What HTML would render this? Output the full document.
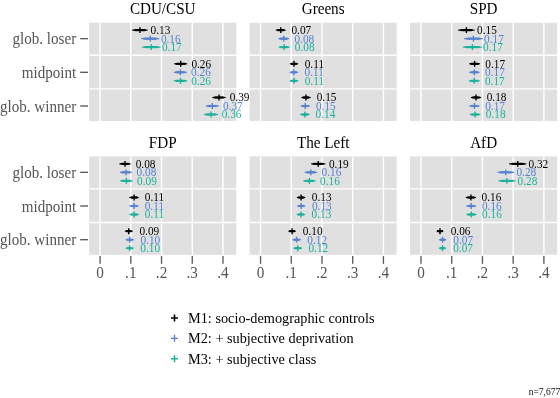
<!DOCTYPE html>
<html lang="en"><head><meta charset="utf-8"><title>Vote choice by globalization position</title>
<style>html,body{margin:0;padding:0;background:#fff}body{width:560px;height:398px;overflow:hidden}svg{display:block}text{font-family:"Liberation Serif","Times New Roman",Times,serif}.t{font-size:15.15px;fill:#000;text-anchor:middle}.y{font-size:15.1px;fill:#555555;text-anchor:end}.x{font-size:15.2px;fill:#555555;text-anchor:middle}.v{font-size:11.3px}.l{font-size:14.3px;fill:#000}.n{font-size:9.55px;fill:#111}</style></head><body>
<svg width="560" height="398" viewBox="0 0 560 398">
<rect width="560" height="398" fill="#fff"/>
<g>
<rect x="89.15" y="22.70" width="147.10" height="98.30" fill="#e0e0e0"/>
<path d="M100.10 22.70V121.00M130.82 22.70V121.00M161.54 22.70V121.00M192.26 22.70V121.00M222.98 22.70V121.00M89.15 55.20H236.25M89.15 88.85H236.25" stroke="#fff" stroke-width="1.4" fill="none"/>
<text class="t" transform="translate(162.70 13.60) scale(1 1.05)">CDU/CSU</text>
<path d="M132.15 30.15H147.65" stroke="#000000" stroke-width="1.1"/>
<path d="M133.67 30.15H146.13" stroke="#000000" stroke-width="1.6"/>
<path d="M134.88 30.15H144.92" stroke="#000000" stroke-width="2.15"/>
<path d="M139.90 27.20V33.10" stroke="#000000" stroke-width="1.4"/>
<text class="v" transform="translate(150.60 34.00) scale(1 1.09)" fill="#000000">0.13</text>
<path d="M141.15 38.65H159.25" stroke="#5781cf" stroke-width="1.1"/>
<path d="M142.90 38.65H157.50" stroke="#5781cf" stroke-width="1.6"/>
<path d="M144.33 38.65H156.07" stroke="#5781cf" stroke-width="2.15"/>
<path d="M150.20 35.70V41.60" stroke="#5781cf" stroke-width="1.4"/>
<text class="v" transform="translate(160.90 42.50) scale(1 1.09)" fill="#5781cf">0.16</text>
<path d="M142.00 47.15H160.50" stroke="#1db19d" stroke-width="1.1"/>
<path d="M143.79 47.15H158.71" stroke="#1db19d" stroke-width="1.6"/>
<path d="M145.24 47.15H157.26" stroke="#1db19d" stroke-width="2.15"/>
<path d="M151.25 44.20V50.10" stroke="#1db19d" stroke-width="1.4"/>
<text class="v" transform="translate(161.95 51.00) scale(1 1.09)" fill="#1db19d">0.17</text>
<path d="M174.15 63.80H187.25" stroke="#000000" stroke-width="1.1"/>
<path d="M175.45 63.80H185.95" stroke="#000000" stroke-width="1.6"/>
<path d="M176.48 63.80H184.92" stroke="#000000" stroke-width="2.15"/>
<path d="M180.70 60.85V66.75" stroke="#000000" stroke-width="1.4"/>
<text class="v" transform="translate(191.40 67.65) scale(1 1.09)" fill="#000000">0.26</text>
<path d="M173.80 72.30H186.90" stroke="#5781cf" stroke-width="1.1"/>
<path d="M175.10 72.30H185.60" stroke="#5781cf" stroke-width="1.6"/>
<path d="M176.13 72.30H184.57" stroke="#5781cf" stroke-width="2.15"/>
<path d="M180.35 69.35V75.25" stroke="#5781cf" stroke-width="1.4"/>
<text class="v" transform="translate(191.05 76.15) scale(1 1.09)" fill="#5781cf">0.26</text>
<path d="M173.75 80.80H187.25" stroke="#1db19d" stroke-width="1.1"/>
<path d="M175.09 80.80H185.91" stroke="#1db19d" stroke-width="1.6"/>
<path d="M176.14 80.80H184.86" stroke="#1db19d" stroke-width="2.15"/>
<path d="M180.50 77.85V83.75" stroke="#1db19d" stroke-width="1.4"/>
<text class="v" transform="translate(191.20 84.65) scale(1 1.09)" fill="#1db19d">0.26</text>
<path d="M212.35 97.50H225.65" stroke="#000000" stroke-width="1.1"/>
<path d="M213.67 97.50H224.33" stroke="#000000" stroke-width="1.6"/>
<path d="M214.71 97.50H223.29" stroke="#000000" stroke-width="2.15"/>
<path d="M219.00 94.55V100.45" stroke="#000000" stroke-width="1.4"/>
<text class="v" transform="translate(229.70 101.35) scale(1 1.09)" fill="#000000">0.39</text>
<path d="M205.75 106.00H218.85" stroke="#5781cf" stroke-width="1.1"/>
<path d="M207.05 106.00H217.55" stroke="#5781cf" stroke-width="1.6"/>
<path d="M208.08 106.00H216.52" stroke="#5781cf" stroke-width="2.15"/>
<path d="M212.30 103.05V108.95" stroke="#5781cf" stroke-width="1.4"/>
<text class="v" transform="translate(223.00 109.85) scale(1 1.09)" fill="#5781cf">0.37</text>
<path d="M203.95 114.50H218.05" stroke="#1db19d" stroke-width="1.1"/>
<path d="M205.34 114.50H216.66" stroke="#1db19d" stroke-width="1.6"/>
<path d="M206.45 114.50H215.55" stroke="#1db19d" stroke-width="2.15"/>
<path d="M211.00 111.55V117.45" stroke="#1db19d" stroke-width="1.4"/>
<text class="v" transform="translate(221.70 118.35) scale(1 1.09)" fill="#1db19d">0.36</text>
</g>
<g>
<rect x="249.60" y="22.70" width="147.10" height="98.30" fill="#e0e0e0"/>
<path d="M260.55 22.70V121.00M291.27 22.70V121.00M321.99 22.70V121.00M352.71 22.70V121.00M383.43 22.70V121.00M249.60 55.20H396.70M249.60 88.85H396.70" stroke="#fff" stroke-width="1.4" fill="none"/>
<text class="t" transform="translate(323.15 13.60) scale(1 1.05)">Greens</text>
<path d="M275.85 30.15H285.65" stroke="#000000" stroke-width="1.1"/>
<path d="M276.86 30.15H284.64" stroke="#000000" stroke-width="1.6"/>
<path d="M277.62 30.15H283.88" stroke="#000000" stroke-width="2.15"/>
<path d="M280.75 27.20V33.10" stroke="#000000" stroke-width="1.4"/>
<text class="v" transform="translate(291.45 34.00) scale(1 1.09)" fill="#000000">0.07</text>
<path d="M278.35 38.65H289.15" stroke="#5781cf" stroke-width="1.1"/>
<path d="M279.44 38.65H288.06" stroke="#5781cf" stroke-width="1.6"/>
<path d="M280.29 38.65H287.21" stroke="#5781cf" stroke-width="2.15"/>
<path d="M283.75 35.70V41.60" stroke="#5781cf" stroke-width="1.4"/>
<text class="v" transform="translate(294.45 42.50) scale(1 1.09)" fill="#5781cf">0.08</text>
<path d="M278.55 47.15H289.65" stroke="#1db19d" stroke-width="1.1"/>
<path d="M279.67 47.15H288.53" stroke="#1db19d" stroke-width="1.6"/>
<path d="M280.54 47.15H287.66" stroke="#1db19d" stroke-width="2.15"/>
<path d="M284.10 44.20V50.10" stroke="#1db19d" stroke-width="1.4"/>
<text class="v" transform="translate(294.80 51.00) scale(1 1.09)" fill="#1db19d">0.08</text>
<path d="M289.85 63.80H298.15" stroke="#000000" stroke-width="1.1"/>
<path d="M290.72 63.80H297.28" stroke="#000000" stroke-width="1.6"/>
<path d="M291.36 63.80H296.64" stroke="#000000" stroke-width="2.15"/>
<path d="M294.00 60.85V66.75" stroke="#000000" stroke-width="1.4"/>
<text class="v" transform="translate(304.70 67.65) scale(1 1.09)" fill="#000000">0.11</text>
<path d="M289.65 72.30H298.15" stroke="#5781cf" stroke-width="1.1"/>
<path d="M290.54 72.30H297.26" stroke="#5781cf" stroke-width="1.6"/>
<path d="M291.19 72.30H296.61" stroke="#5781cf" stroke-width="2.15"/>
<path d="M293.90 69.35V75.25" stroke="#5781cf" stroke-width="1.4"/>
<text class="v" transform="translate(304.60 76.15) scale(1 1.09)" fill="#5781cf">0.11</text>
<path d="M289.65 80.80H298.35" stroke="#1db19d" stroke-width="1.1"/>
<path d="M290.56 80.80H297.44" stroke="#1db19d" stroke-width="1.6"/>
<path d="M291.23 80.80H296.77" stroke="#1db19d" stroke-width="2.15"/>
<path d="M294.00 77.85V83.75" stroke="#1db19d" stroke-width="1.4"/>
<text class="v" transform="translate(304.70 84.65) scale(1 1.09)" fill="#1db19d">0.11</text>
<path d="M301.35 97.50H310.65" stroke="#000000" stroke-width="1.1"/>
<path d="M302.31 97.50H309.69" stroke="#000000" stroke-width="1.6"/>
<path d="M303.03 97.50H308.97" stroke="#000000" stroke-width="2.15"/>
<path d="M306.00 94.55V100.45" stroke="#000000" stroke-width="1.4"/>
<text class="v" transform="translate(316.70 101.35) scale(1 1.09)" fill="#000000">0.15</text>
<path d="M300.60 106.00H309.90" stroke="#5781cf" stroke-width="1.1"/>
<path d="M301.56 106.00H308.94" stroke="#5781cf" stroke-width="1.6"/>
<path d="M302.28 106.00H308.22" stroke="#5781cf" stroke-width="2.15"/>
<path d="M305.25 103.05V108.95" stroke="#5781cf" stroke-width="1.4"/>
<text class="v" transform="translate(315.95 109.85) scale(1 1.09)" fill="#5781cf">0.15</text>
<path d="M300.15 114.50H309.65" stroke="#1db19d" stroke-width="1.1"/>
<path d="M301.13 114.50H308.67" stroke="#1db19d" stroke-width="1.6"/>
<path d="M301.86 114.50H307.94" stroke="#1db19d" stroke-width="2.15"/>
<path d="M304.90 111.55V117.45" stroke="#1db19d" stroke-width="1.4"/>
<text class="v" transform="translate(315.60 118.35) scale(1 1.09)" fill="#1db19d">0.14</text>
</g>
<g>
<rect x="410.05" y="22.70" width="147.10" height="98.30" fill="#e0e0e0"/>
<path d="M421.00 22.70V121.00M451.72 22.70V121.00M482.44 22.70V121.00M513.16 22.70V121.00M543.88 22.70V121.00M410.05 55.20H557.15M410.05 88.85H557.15" stroke="#fff" stroke-width="1.4" fill="none"/>
<text class="t" transform="translate(483.60 13.60) scale(1 1.05)">SPD</text>
<path d="M458.15 30.15H474.65" stroke="#000000" stroke-width="1.1"/>
<path d="M459.76 30.15H473.04" stroke="#000000" stroke-width="1.6"/>
<path d="M461.05 30.15H471.75" stroke="#000000" stroke-width="2.15"/>
<path d="M466.40 27.20V33.10" stroke="#000000" stroke-width="1.4"/>
<text class="v" transform="translate(477.10 34.00) scale(1 1.09)" fill="#000000">0.15</text>
<path d="M463.85 38.65H482.95" stroke="#5781cf" stroke-width="1.1"/>
<path d="M465.69 38.65H481.11" stroke="#5781cf" stroke-width="1.6"/>
<path d="M467.20 38.65H479.60" stroke="#5781cf" stroke-width="2.15"/>
<path d="M473.40 35.70V41.60" stroke="#5781cf" stroke-width="1.4"/>
<text class="v" transform="translate(484.10 42.50) scale(1 1.09)" fill="#5781cf">0.17</text>
<path d="M462.85 47.15H481.95" stroke="#1db19d" stroke-width="1.1"/>
<path d="M464.69 47.15H480.11" stroke="#1db19d" stroke-width="1.6"/>
<path d="M466.20 47.15H478.60" stroke="#1db19d" stroke-width="2.15"/>
<path d="M472.40 44.20V50.10" stroke="#1db19d" stroke-width="1.4"/>
<text class="v" transform="translate(483.10 51.00) scale(1 1.09)" fill="#1db19d">0.17</text>
<path d="M469.15 63.80H480.05" stroke="#000000" stroke-width="1.1"/>
<path d="M470.25 63.80H478.95" stroke="#000000" stroke-width="1.6"/>
<path d="M471.10 63.80H478.10" stroke="#000000" stroke-width="2.15"/>
<path d="M474.60 60.85V66.75" stroke="#000000" stroke-width="1.4"/>
<text class="v" transform="translate(485.30 67.65) scale(1 1.09)" fill="#000000">0.17</text>
<path d="M469.15 72.30H479.65" stroke="#5781cf" stroke-width="1.1"/>
<path d="M470.22 72.30H478.58" stroke="#5781cf" stroke-width="1.6"/>
<path d="M471.03 72.30H477.77" stroke="#5781cf" stroke-width="2.15"/>
<path d="M474.40 69.35V75.25" stroke="#5781cf" stroke-width="1.4"/>
<text class="v" transform="translate(485.10 76.15) scale(1 1.09)" fill="#5781cf">0.17</text>
<path d="M468.85 80.80H479.65" stroke="#1db19d" stroke-width="1.1"/>
<path d="M469.94 80.80H478.56" stroke="#1db19d" stroke-width="1.6"/>
<path d="M470.79 80.80H477.71" stroke="#1db19d" stroke-width="2.15"/>
<path d="M474.25 77.85V83.75" stroke="#1db19d" stroke-width="1.4"/>
<text class="v" transform="translate(484.95 84.65) scale(1 1.09)" fill="#1db19d">0.17</text>
<path d="M470.85 97.50H481.15" stroke="#000000" stroke-width="1.1"/>
<path d="M471.90 97.50H480.10" stroke="#000000" stroke-width="1.6"/>
<path d="M472.70 97.50H479.30" stroke="#000000" stroke-width="2.15"/>
<path d="M476.00 94.55V100.45" stroke="#000000" stroke-width="1.4"/>
<text class="v" transform="translate(486.70 101.35) scale(1 1.09)" fill="#000000">0.18</text>
<path d="M469.35 106.00H479.65" stroke="#5781cf" stroke-width="1.1"/>
<path d="M470.40 106.00H478.60" stroke="#5781cf" stroke-width="1.6"/>
<path d="M471.20 106.00H477.80" stroke="#5781cf" stroke-width="2.15"/>
<path d="M474.50 103.05V108.95" stroke="#5781cf" stroke-width="1.4"/>
<text class="v" transform="translate(485.20 109.85) scale(1 1.09)" fill="#5781cf">0.17</text>
<path d="M469.85 114.50H480.35" stroke="#1db19d" stroke-width="1.1"/>
<path d="M470.92 114.50H479.28" stroke="#1db19d" stroke-width="1.6"/>
<path d="M471.73 114.50H478.47" stroke="#1db19d" stroke-width="2.15"/>
<path d="M475.10 111.55V117.45" stroke="#1db19d" stroke-width="1.4"/>
<text class="v" transform="translate(485.80 118.35) scale(1 1.09)" fill="#1db19d">0.18</text>
</g>
<path d="M80.2 38.65H88" stroke="#5a5a5a" stroke-width="1.35"/>
<text class="y" transform="translate(76.20 44.25) scale(1 1.07)">glob. loser</text>
<path d="M80.2 72.30H88" stroke="#5a5a5a" stroke-width="1.35"/>
<text class="y" transform="translate(76.20 77.90) scale(1 1.07)">midpoint</text>
<path d="M80.2 106.00H88" stroke="#5a5a5a" stroke-width="1.35"/>
<text class="y" transform="translate(76.20 111.60) scale(1 1.07)">glob. winner</text>
<g>
<rect x="89.15" y="156.40" width="147.10" height="98.35" fill="#e0e0e0"/>
<path d="M100.10 156.40V254.75M130.82 156.40V254.75M161.54 156.40V254.75M192.26 156.40V254.75M222.98 156.40V254.75M89.15 188.90H236.25M89.15 222.55H236.25" stroke="#fff" stroke-width="1.4" fill="none"/>
<text class="t" transform="translate(162.70 147.90) scale(1 1.05)">FDP</text>
<path d="M119.35 163.85H130.65" stroke="#000000" stroke-width="1.1"/>
<path d="M120.49 163.85H129.51" stroke="#000000" stroke-width="1.6"/>
<path d="M121.37 163.85H128.63" stroke="#000000" stroke-width="2.15"/>
<path d="M125.00 160.90V166.80" stroke="#000000" stroke-width="1.4"/>
<text class="v" transform="translate(135.70 167.70) scale(1 1.09)" fill="#000000">0.08</text>
<path d="M119.85 172.35H131.95" stroke="#5781cf" stroke-width="1.1"/>
<path d="M121.06 172.35H130.74" stroke="#5781cf" stroke-width="1.6"/>
<path d="M122.01 172.35H129.79" stroke="#5781cf" stroke-width="2.15"/>
<path d="M125.90 169.40V175.30" stroke="#5781cf" stroke-width="1.4"/>
<text class="v" transform="translate(136.60 176.20) scale(1 1.09)" fill="#5781cf">0.08</text>
<path d="M120.15 180.85H132.65" stroke="#1db19d" stroke-width="1.1"/>
<path d="M121.40 180.85H131.40" stroke="#1db19d" stroke-width="1.6"/>
<path d="M122.37 180.85H130.43" stroke="#1db19d" stroke-width="2.15"/>
<path d="M126.40 177.90V183.80" stroke="#1db19d" stroke-width="1.4"/>
<text class="v" transform="translate(137.10 184.70) scale(1 1.09)" fill="#1db19d">0.09</text>
<path d="M129.35 197.50H138.85" stroke="#000000" stroke-width="1.1"/>
<path d="M130.33 197.50H137.87" stroke="#000000" stroke-width="1.6"/>
<path d="M131.06 197.50H137.14" stroke="#000000" stroke-width="2.15"/>
<path d="M134.10 194.55V200.45" stroke="#000000" stroke-width="1.4"/>
<text class="v" transform="translate(144.80 201.35) scale(1 1.09)" fill="#000000">0.11</text>
<path d="M129.35 206.00H138.65" stroke="#5781cf" stroke-width="1.1"/>
<path d="M130.31 206.00H137.69" stroke="#5781cf" stroke-width="1.6"/>
<path d="M131.03 206.00H136.97" stroke="#5781cf" stroke-width="2.15"/>
<path d="M134.00 203.05V208.95" stroke="#5781cf" stroke-width="1.4"/>
<text class="v" transform="translate(144.70 209.85) scale(1 1.09)" fill="#5781cf">0.11</text>
<path d="M129.35 214.50H138.85" stroke="#1db19d" stroke-width="1.1"/>
<path d="M130.33 214.50H137.87" stroke="#1db19d" stroke-width="1.6"/>
<path d="M131.06 214.50H137.14" stroke="#1db19d" stroke-width="2.15"/>
<path d="M134.10 211.55V217.45" stroke="#1db19d" stroke-width="1.4"/>
<text class="v" transform="translate(144.80 218.35) scale(1 1.09)" fill="#1db19d">0.11</text>
<path d="M124.85 231.20H132.65" stroke="#000000" stroke-width="1.1"/>
<path d="M125.67 231.20H131.82" stroke="#000000" stroke-width="1.6"/>
<path d="M126.25 231.20H131.25" stroke="#000000" stroke-width="2.15"/>
<path d="M128.75 228.25V234.15" stroke="#000000" stroke-width="1.4"/>
<text class="v" transform="translate(139.45 235.05) scale(1 1.09)" fill="#000000">0.09</text>
<path d="M125.60 239.70H133.90" stroke="#5781cf" stroke-width="1.1"/>
<path d="M126.47 239.70H133.03" stroke="#5781cf" stroke-width="1.6"/>
<path d="M127.11 239.70H132.39" stroke="#5781cf" stroke-width="2.15"/>
<path d="M129.75 236.75V242.65" stroke="#5781cf" stroke-width="1.4"/>
<text class="v" transform="translate(140.45 243.55) scale(1 1.09)" fill="#5781cf">0.10</text>
<path d="M125.55 248.20H133.65" stroke="#1db19d" stroke-width="1.1"/>
<path d="M126.40 248.20H132.80" stroke="#1db19d" stroke-width="1.6"/>
<path d="M127.03 248.20H132.17" stroke="#1db19d" stroke-width="2.15"/>
<path d="M129.60 245.25V251.15" stroke="#1db19d" stroke-width="1.4"/>
<text class="v" transform="translate(140.30 252.05) scale(1 1.09)" fill="#1db19d">0.10</text>
</g>
<g>
<rect x="249.60" y="156.40" width="147.10" height="98.35" fill="#e0e0e0"/>
<path d="M260.55 156.40V254.75M291.27 156.40V254.75M321.99 156.40V254.75M352.71 156.40V254.75M383.43 156.40V254.75M249.60 188.90H396.70M249.60 222.55H396.70" stroke="#fff" stroke-width="1.4" fill="none"/>
<text class="t" transform="translate(323.15 147.90) scale(1 1.05)">The Left</text>
<path d="M311.10 163.85H325.40" stroke="#000000" stroke-width="1.1"/>
<path d="M312.51 163.85H323.99" stroke="#000000" stroke-width="1.6"/>
<path d="M313.63 163.85H322.87" stroke="#000000" stroke-width="2.15"/>
<path d="M318.25 160.90V166.80" stroke="#000000" stroke-width="1.4"/>
<text class="v" transform="translate(328.95 167.70) scale(1 1.09)" fill="#000000">0.19</text>
<path d="M304.65 172.35H317.15" stroke="#5781cf" stroke-width="1.1"/>
<path d="M305.90 172.35H315.90" stroke="#5781cf" stroke-width="1.6"/>
<path d="M306.87 172.35H314.93" stroke="#5781cf" stroke-width="2.15"/>
<path d="M310.90 169.40V175.30" stroke="#5781cf" stroke-width="1.4"/>
<text class="v" transform="translate(321.60 176.20) scale(1 1.09)" fill="#5781cf">0.16</text>
<path d="M303.15 180.85H315.65" stroke="#1db19d" stroke-width="1.1"/>
<path d="M304.40 180.85H314.40" stroke="#1db19d" stroke-width="1.6"/>
<path d="M305.37 180.85H313.43" stroke="#1db19d" stroke-width="2.15"/>
<path d="M309.40 177.90V183.80" stroke="#1db19d" stroke-width="1.4"/>
<text class="v" transform="translate(320.10 184.70) scale(1 1.09)" fill="#1db19d">0.16</text>
<path d="M296.85 197.50H305.35" stroke="#000000" stroke-width="1.1"/>
<path d="M297.74 197.50H304.46" stroke="#000000" stroke-width="1.6"/>
<path d="M298.39 197.50H303.81" stroke="#000000" stroke-width="2.15"/>
<path d="M301.10 194.55V200.45" stroke="#000000" stroke-width="1.4"/>
<text class="v" transform="translate(311.80 201.35) scale(1 1.09)" fill="#000000">0.13</text>
<path d="M297.10 206.00H305.40" stroke="#5781cf" stroke-width="1.1"/>
<path d="M297.97 206.00H304.53" stroke="#5781cf" stroke-width="1.6"/>
<path d="M298.61 206.00H303.89" stroke="#5781cf" stroke-width="2.15"/>
<path d="M301.25 203.05V208.95" stroke="#5781cf" stroke-width="1.4"/>
<text class="v" transform="translate(311.95 209.85) scale(1 1.09)" fill="#5781cf">0.13</text>
<path d="M296.65 214.50H305.15" stroke="#1db19d" stroke-width="1.1"/>
<path d="M297.54 214.50H304.26" stroke="#1db19d" stroke-width="1.6"/>
<path d="M298.19 214.50H303.61" stroke="#1db19d" stroke-width="2.15"/>
<path d="M300.90 211.55V217.45" stroke="#1db19d" stroke-width="1.4"/>
<text class="v" transform="translate(311.60 218.35) scale(1 1.09)" fill="#1db19d">0.13</text>
<path d="M288.35 231.20H295.85" stroke="#000000" stroke-width="1.1"/>
<path d="M289.15 231.20H295.05" stroke="#000000" stroke-width="1.6"/>
<path d="M289.60 231.20H294.60" stroke="#000000" stroke-width="2.15"/>
<path d="M292.10 228.25V234.15" stroke="#000000" stroke-width="1.4"/>
<text class="v" transform="translate(302.80 235.05) scale(1 1.09)" fill="#000000">0.10</text>
<path d="M292.35 239.70H300.85" stroke="#5781cf" stroke-width="1.1"/>
<path d="M293.24 239.70H299.96" stroke="#5781cf" stroke-width="1.6"/>
<path d="M293.89 239.70H299.31" stroke="#5781cf" stroke-width="2.15"/>
<path d="M296.60 236.75V242.65" stroke="#5781cf" stroke-width="1.4"/>
<text class="v" transform="translate(307.30 243.55) scale(1 1.09)" fill="#5781cf">0.12</text>
<path d="M293.35 248.20H302.15" stroke="#1db19d" stroke-width="1.1"/>
<path d="M294.26 248.20H301.24" stroke="#1db19d" stroke-width="1.6"/>
<path d="M294.94 248.20H300.56" stroke="#1db19d" stroke-width="2.15"/>
<path d="M297.75 245.25V251.15" stroke="#1db19d" stroke-width="1.4"/>
<text class="v" transform="translate(308.45 252.05) scale(1 1.09)" fill="#1db19d">0.12</text>
</g>
<g>
<rect x="410.05" y="156.40" width="147.10" height="98.35" fill="#e0e0e0"/>
<path d="M421.00 156.40V254.75M451.72 156.40V254.75M482.44 156.40V254.75M513.16 156.40V254.75M543.88 156.40V254.75M410.05 188.90H557.15M410.05 222.55H557.15" stroke="#fff" stroke-width="1.4" fill="none"/>
<text class="t" transform="translate(483.60 147.90) scale(1 1.05)">AfD</text>
<path d="M509.10 163.85H526.40" stroke="#000000" stroke-width="1.1"/>
<path d="M510.78 163.85H524.72" stroke="#000000" stroke-width="1.6"/>
<path d="M512.14 163.85H523.36" stroke="#000000" stroke-width="2.15"/>
<path d="M517.75 160.90V166.80" stroke="#000000" stroke-width="1.4"/>
<text class="v" transform="translate(528.45 167.70) scale(1 1.09)" fill="#000000">0.32</text>
<path d="M497.35 172.35H514.15" stroke="#5781cf" stroke-width="1.1"/>
<path d="M498.99 172.35H512.51" stroke="#5781cf" stroke-width="1.6"/>
<path d="M500.31 172.35H511.19" stroke="#5781cf" stroke-width="2.15"/>
<path d="M505.75 169.40V175.30" stroke="#5781cf" stroke-width="1.4"/>
<text class="v" transform="translate(516.45 176.20) scale(1 1.09)" fill="#5781cf">0.28</text>
<path d="M498.35 180.85H515.45" stroke="#1db19d" stroke-width="1.1"/>
<path d="M500.01 180.85H513.79" stroke="#1db19d" stroke-width="1.6"/>
<path d="M501.36 180.85H512.44" stroke="#1db19d" stroke-width="2.15"/>
<path d="M506.90 177.90V183.80" stroke="#1db19d" stroke-width="1.4"/>
<text class="v" transform="translate(517.60 184.70) scale(1 1.09)" fill="#1db19d">0.28</text>
<path d="M465.85 197.50H475.95" stroke="#000000" stroke-width="1.1"/>
<path d="M466.88 197.50H474.92" stroke="#000000" stroke-width="1.6"/>
<path d="M467.67 197.50H474.13" stroke="#000000" stroke-width="2.15"/>
<path d="M470.90 194.55V200.45" stroke="#000000" stroke-width="1.4"/>
<text class="v" transform="translate(481.60 201.35) scale(1 1.09)" fill="#000000">0.16</text>
<path d="M466.35 206.00H476.15" stroke="#5781cf" stroke-width="1.1"/>
<path d="M467.36 206.00H475.14" stroke="#5781cf" stroke-width="1.6"/>
<path d="M468.12 206.00H474.38" stroke="#5781cf" stroke-width="2.15"/>
<path d="M471.25 203.05V208.95" stroke="#5781cf" stroke-width="1.4"/>
<text class="v" transform="translate(481.95 209.85) scale(1 1.09)" fill="#5781cf">0.16</text>
<path d="M466.35 214.50H476.45" stroke="#1db19d" stroke-width="1.1"/>
<path d="M467.38 214.50H475.42" stroke="#1db19d" stroke-width="1.6"/>
<path d="M468.17 214.50H474.63" stroke="#1db19d" stroke-width="2.15"/>
<path d="M471.40 211.55V217.45" stroke="#1db19d" stroke-width="1.4"/>
<text class="v" transform="translate(482.10 218.35) scale(1 1.09)" fill="#1db19d">0.16</text>
<path d="M436.65 231.20H443.35" stroke="#000000" stroke-width="1.1"/>
<path d="M437.10 231.20H442.90" stroke="#000000" stroke-width="1.6"/>
<path d="M437.50 231.20H442.50" stroke="#000000" stroke-width="2.15"/>
<path d="M440.00 228.25V234.15" stroke="#000000" stroke-width="1.4"/>
<text class="v" transform="translate(450.70 235.05) scale(1 1.09)" fill="#000000">0.06</text>
<path d="M439.05 239.70H446.15" stroke="#5781cf" stroke-width="1.1"/>
<path d="M439.70 239.70H445.50" stroke="#5781cf" stroke-width="1.6"/>
<path d="M440.10 239.70H445.10" stroke="#5781cf" stroke-width="2.15"/>
<path d="M442.60 236.75V242.65" stroke="#5781cf" stroke-width="1.4"/>
<text class="v" transform="translate(453.30 243.55) scale(1 1.09)" fill="#5781cf">0.07</text>
<path d="M438.85 248.20H446.15" stroke="#1db19d" stroke-width="1.1"/>
<path d="M439.60 248.20H445.40" stroke="#1db19d" stroke-width="1.6"/>
<path d="M440.00 248.20H445.00" stroke="#1db19d" stroke-width="2.15"/>
<path d="M442.50 245.25V251.15" stroke="#1db19d" stroke-width="1.4"/>
<text class="v" transform="translate(453.20 252.05) scale(1 1.09)" fill="#1db19d">0.07</text>
</g>
<path d="M80.2 172.35H88" stroke="#5a5a5a" stroke-width="1.35"/>
<text class="y" transform="translate(76.20 177.95) scale(1 1.07)">glob. loser</text>
<path d="M80.2 206.00H88" stroke="#5a5a5a" stroke-width="1.35"/>
<text class="y" transform="translate(76.20 211.60) scale(1 1.07)">midpoint</text>
<path d="M80.2 239.70H88" stroke="#5a5a5a" stroke-width="1.35"/>
<text class="y" transform="translate(76.20 245.30) scale(1 1.07)">glob. winner</text>
<path d="M100.10 256.1V263.8" stroke="#5a5a5a" stroke-width="1.35"/>
<text class="x" transform="translate(100.10 278.45) scale(1 1.05)">0</text>
<path d="M130.82 256.1V263.8" stroke="#5a5a5a" stroke-width="1.35"/>
<text class="x" transform="translate(130.82 278.45) scale(1 1.05)">.1</text>
<path d="M161.54 256.1V263.8" stroke="#5a5a5a" stroke-width="1.35"/>
<text class="x" transform="translate(161.54 278.45) scale(1 1.05)">.2</text>
<path d="M192.26 256.1V263.8" stroke="#5a5a5a" stroke-width="1.35"/>
<text class="x" transform="translate(192.26 278.45) scale(1 1.05)">.3</text>
<path d="M222.98 256.1V263.8" stroke="#5a5a5a" stroke-width="1.35"/>
<text class="x" transform="translate(222.98 278.45) scale(1 1.05)">.4</text>
<path d="M260.55 256.1V263.8" stroke="#5a5a5a" stroke-width="1.35"/>
<text class="x" transform="translate(260.55 278.45) scale(1 1.05)">0</text>
<path d="M291.27 256.1V263.8" stroke="#5a5a5a" stroke-width="1.35"/>
<text class="x" transform="translate(291.27 278.45) scale(1 1.05)">.1</text>
<path d="M321.99 256.1V263.8" stroke="#5a5a5a" stroke-width="1.35"/>
<text class="x" transform="translate(321.99 278.45) scale(1 1.05)">.2</text>
<path d="M352.71 256.1V263.8" stroke="#5a5a5a" stroke-width="1.35"/>
<text class="x" transform="translate(352.71 278.45) scale(1 1.05)">.3</text>
<path d="M383.43 256.1V263.8" stroke="#5a5a5a" stroke-width="1.35"/>
<text class="x" transform="translate(383.43 278.45) scale(1 1.05)">.4</text>
<path d="M421.00 256.1V263.8" stroke="#5a5a5a" stroke-width="1.35"/>
<text class="x" transform="translate(421.00 278.45) scale(1 1.05)">0</text>
<path d="M451.72 256.1V263.8" stroke="#5a5a5a" stroke-width="1.35"/>
<text class="x" transform="translate(451.72 278.45) scale(1 1.05)">.1</text>
<path d="M482.44 256.1V263.8" stroke="#5a5a5a" stroke-width="1.35"/>
<text class="x" transform="translate(482.44 278.45) scale(1 1.05)">.2</text>
<path d="M513.16 256.1V263.8" stroke="#5a5a5a" stroke-width="1.35"/>
<text class="x" transform="translate(513.16 278.45) scale(1 1.05)">.3</text>
<path d="M543.88 256.1V263.8" stroke="#5a5a5a" stroke-width="1.35"/>
<text class="x" transform="translate(543.88 278.45) scale(1 1.05)">.4</text>
<path d="M171 318.00H178M174.5 314.50V321.50" stroke="#000000" stroke-width="1.6"/>
<text class="l" transform="translate(188.00 322.80) scale(1 1.07)">M1: socio-demographic controls</text>
<path d="M171 338.35H178M174.5 334.85V341.85" stroke="#5781cf" stroke-width="1.35"/>
<text class="l" transform="translate(188.00 343.15) scale(1 1.07)">M2: + subjective deprivation</text>
<path d="M171 358.70H178M174.5 355.20V362.20" stroke="#1db19d" stroke-width="1.5"/>
<text class="l" transform="translate(188.00 363.50) scale(1 1.07)">M3: + subjective class</text>
<text class="n" transform="translate(528.70 394.90) scale(1 1.07)">n=7,677</text>
</svg></body></html>
